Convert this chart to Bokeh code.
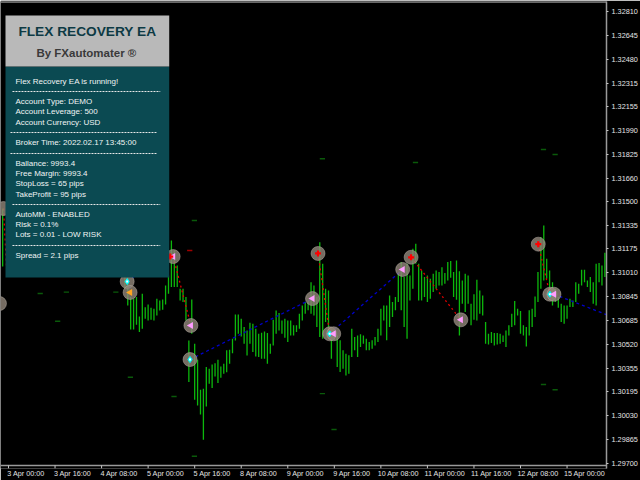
from bokeh.plotting import figure
from bokeh.embed import file_html
from bokeh.resources import INLINE
from bokeh.models import Range1d, LinearAxis, FixedTicker, NumeralTickFormatter
from bokeh.core.properties import value
import math

# chart values
y_ticks = [1.32810,1.32645,1.32480,1.32315,1.32155,1.31990,1.31825,1.31660,1.31500,1.31335,
           1.31175,1.31010,1.30845,1.30685,1.30520,1.30355,1.30195,1.30030,1.29865,1.29700]
x_labels = ["3 Apr 00:00","3 Apr 16:00","4 Apr 08:00","5 Apr 00:00","5 Apr 16:00","8 Apr 08:00","9 Apr 00:00",
            "9 Apr 16:00","10 Apr 08:00","11 Apr 00:00","11 Apr 16:00","12 Apr 08:00","15 Apr 00:00"]
first_bar = 40
highs = [1.30980,1.30982,1.30844,1.30833,1.30844,1.30711,1.30867,1.30775,1.30794,1.30771,1.30764,1.30833,1.30821,1.30828,1.30924,
 1.30993,1.31233,1.31165,1.31062,1.30901,1.30901,1.30844,1.30546,1.30828,1.30523,1.30413,1.30207,1.30214,1.30363,1.30351,
 1.30381,1.30390,1.30413,1.30367,1.30386,1.30478,1.30482,1.30558,1.30725,1.30725,1.30695,1.30638,1.30615,1.30668,1.30661,
 1.30626,1.30592,1.30599,1.30608,1.30597,1.30523,1.30688,1.30752,1.30734,
 1.30684,1.30695,1.30684,1.30684,1.30650,1.30650,1.30730,1.30787,1.30810,1.30821,1.30947,1.30924,1.30844,1.31222,1.31073,
 1.30902,1.30890,1.30627,1.30627,1.30581,1.30547,1.30478,1.30455,1.30444,1.30627,1.30570,1.30581,1.30588,1.30581,1.30558,
 1.30535,1.30547,1.30570,1.30627,1.30764,1.30787,1.30787,1.30856,1.30810,1.30844,1.31005,1.31085,1.30982,1.31073,1.30993,
 1.31176,1.31211,1.31073,1.31027,1.30982,1.30993,1.30970,1.31005,1.31027,1.31016,1.31050,1.31009,1.31085,1.31092,
 1.31016,1.31096,1.31021,1.30959,1.31005,1.30993,1.30798,1.30863,1.30963,1.30890,1.30856,1.30673,1.30592,1.30604,1.30597,
 1.30597,1.30592,1.30581,1.30615,1.30650,1.30730,1.30817,1.30764,1.30748,1.30650,1.30638,1.30753,1.30764,1.30849,1.31016,
 1.31257,1.31337,1.31108,1.31027,1.30947,1.30902,1.30844,1.30798,1.30787,1.30787,1.30833,1.30821,1.30947,1.30936,1.31032,
 1.31032,1.30959,1.30982,1.30947,1.31073,1.31078,1.31062,1.31149]
lows = [1.30901,1.30787,1.30622,1.30622,1.30654,1.30604,1.30626,1.30695,1.30684,1.30688,1.30684,1.30718,1.30752,1.30757,1.30794,
 1.30867,1.30913,1.30913,1.30913,1.30821,1.30810,1.30684,1.30260,1.30592,1.30138,1.30099,1.30038,1.29864,1.30093,1.30248,
 1.30219,1.30299,1.30253,1.30290,1.30317,1.30328,1.30386,1.30459,1.30546,1.30592,1.30574,1.30523,1.30443,1.30523,1.30466,
 1.30436,1.30432,1.30420,1.30420,1.30386,1.30455,1.30512,1.30592,1.30615,
 1.30592,1.30565,1.30535,1.30581,1.30581,1.30604,1.30627,1.30684,1.30730,1.30753,1.30730,1.30718,1.30638,1.30570,1.30558,
 1.30673,1.30615,1.30421,1.30547,1.30363,1.30329,1.30352,1.30306,1.30318,1.30432,1.30478,1.30432,1.30501,1.30524,1.30478,
 1.30478,1.30489,1.30512,1.30535,1.30581,1.30684,1.30547,1.30638,1.30707,1.30753,1.30810,1.30753,1.30638,1.30558,1.30821,
 1.30902,1.31073,1.30821,1.30821,1.30844,1.30810,1.30833,1.30879,1.30902,1.30924,1.30924,1.30936,1.30959,1.30977,
 1.30844,1.30826,1.30581,1.30798,1.30741,1.30798,1.30650,1.30689,1.30684,1.30730,1.30718,1.30524,1.30519,1.30528,1.30512,
 1.30519,1.30524,1.30535,1.30501,1.30581,1.30638,1.30650,1.30718,1.30592,1.30581,1.30505,1.30581,1.30638,1.30707,1.30810,
 1.30902,1.30959,1.30970,1.30890,1.30787,1.30810,1.30771,1.30673,1.30661,1.30695,1.30776,1.30776,1.30810,1.30867,1.30924,
 1.30947,1.30913,1.30879,1.30798,1.30787,1.30947,1.30924,1.30982]
left_bar = [-2]
left_high = [1.31453]
left_low = [1.31054]

circle_bar = [-3.1,-1.7,40.8,41.8,56.6,62.7,62.4,106.4,104.5,110.4,111.8,135.5,138.4,155.5,182.1,186.1,187.5]
circle_price = [1.30800,1.31453,1.30951,1.30876,1.31123,1.30649,1.30415,1.31144,1.30834,1.30592,1.30592,1.31034,1.31118,1.30688,1.31208,1.30864,1.30864]

cyan_bar = [40.8,62.4,110.4,186.1]
cyan_price = [1.30951,1.30415,1.30592,1.30864]
pink_bar = [56.6,62.7,104.5,111.8,135.5,155.5,187.5]
pink_price = [1.31123,1.30649,1.30834,1.30592,1.31034,1.30688,1.30864]
orange_bar = [41.8]
orange_price = [1.30876]
red_bar = [55.6,106.4,138.4,182.1]
red_price = [1.31123,1.31144,1.31118,1.31208]

red_x0 = [-1.7,56.6,106.4,138.4,182.1]
red_y0 = [1.31453,1.31123,1.31144,1.31118,1.31208]
red_x1 = [-0.5,62.7,110.4,155.5,186.1]
red_y1 = [1.30979,1.30649,1.30592,1.30688,1.30864]
blue_x0 = [40.8,62.4,110.4,187.5]
blue_y0 = [1.30951,1.30415,1.30592,1.30864]
blue_x1 = [50,104.5,135.5,205.5]
blue_y1 = [1.31082,1.30834,1.31034,1.30724]

dash_bar = [10,19,36,16,41,56,107,111,63,63,107,139,183,187,183,187]
dash_price = [1.30869,1.30878,1.30878,1.30678,1.30293,1.30161,1.30181,1.29934,1.29750,1.31371,1.31795,1.31769,1.31859,1.31824,1.30243,1.30207]
reddash_bar = [61.4]
reddash_price = [1.31164]

panel_title = "FLEX RECOVERY EA"
panel_sub = "By FXautomater ®"
panel_lines = ["Flex Recovery EA is running!","Account Type:  DEMO","Account Leverage: 500","Account Currency: USD",
 "Broker Time: 2022.02.17 13:45:00","Ballance: 9993.4","Free Margin: 9993.4","StopLoss = 65 pips","TakeProfit = 95 pips",
 "AutoMM - ENABLED","Risk = 0.1%","Lots = 0.01 - LOW RISK","Spread = 2.1 pips"]
line_px = [81,101,111,122,142,163,173,183,194,214,224,234,255]
rule_y = [91,132,153,204,245]
rule_x0 = [12,10,10,12,12]
rule_x1 = [160,157,157,160,160]

FONT = "Liberation Sans"
p = figure(width=640, height=480, output_backend="svg", toolbar_location=None,
           x_range=Range1d(-2.745, 205.56), y_range=Range1d(1.29666, 1.32876),
           background_fill_color="black", border_fill_color="black",
           min_border_left=0, min_border_right=33, min_border_top=1, min_border_bottom=12,
           outline_line_color=None)
p.xaxis.visible = False
p.yaxis.visible = False
p.grid.visible = False
p.left = []
p.below = []
p.extra_x_ranges["px"] = Range1d(0, 607)
p.extra_y_ranges["px"] = Range1d(468, 1)

BAR = "#0cb80c"
bars_x = list(range(first_bar, first_bar + len(highs)))
p.segment(left_bar, left_high, left_bar, left_low, line_color=BAR, line_width=1.3)
p.segment(bars_x, highs, bars_x, lows, line_color=BAR, line_width=1.3)
p.segment(dash_bar, dash_price, [b + 1.8 for b in dash_bar], dash_price, line_color="#0a5a0a", line_width=1.4)
p.segment(reddash_bar, reddash_price, [b + 1.8 for b in reddash_bar], reddash_price, line_color="#a00000", line_width=1.4)
p.segment(red_x0, red_y0, red_x1, red_y1, line_color="#e00000", line_width=1.3, line_dash="2 3")
p.segment(blue_x0, blue_y0, blue_x1, blue_y1, line_color="#0000c8", line_width=1.3, line_dash="3 3")
p.scatter(circle_bar, circle_price, size=14, marker="circle", fill_color="#8f8478", fill_alpha=0.82,
          line_color="#b4aca4", line_alpha=0.5)
p.scatter(cyan_bar, cyan_price, size=6, marker="diamond", fill_color="#00ffff", line_color="#00ffff")
p.scatter(cyan_bar, cyan_price, size=2, marker="square", fill_color="white", line_color=None)
p.scatter(pink_bar, pink_price, size=7, marker="triangle", angle=math.pi/2, fill_color="#ff9cff", line_color=None)
p.scatter(orange_bar, orange_price, size=7, marker="triangle", angle=math.pi/2, fill_color="#ffa520", line_color=None)
p.scatter(red_bar, red_price, size=6, marker="plus", fill_color="#ff0000", line_color=None)

# frame lines, time ticks and information panel
tick_bars = [16*k for k in range(len(x_labels))]
px = dict(x_range_name="px", y_range_name="px")
p.segment([0], [1.5], [607], [1.5], line_color="#8c8c8c", line_width=1.5, **px)
p.segment([0], [465], [607], [465], line_color="#9a9a9a", line_width=1.5, **px)
p.segment(tick_bars, [465]*len(tick_bars), tick_bars, [468]*len(tick_bars), line_color="#c8c8c8", line_width=1, y_range_name="px")
p.quad(left=[5], right=[169], top=[66], bottom=[277], fill_color="#0b4a52", line_color=None, **px)
p.quad(left=[5], right=[169], top=[15], bottom=[66], fill_color="#b9b9b9", line_color=None, **px)
p.text([87], [31], text=[panel_title], text_font=value(FONT), text_font_style="bold", text_font_size="13.7px",
       text_color="#0d3a44", text_align="center", text_baseline="middle", **px)
p.text([86], [52], text=[panel_sub], text_font=value(FONT), text_font_style="bold", text_font_size="11.5px",
       text_color="#3a3a3a", text_align="center", text_baseline="middle", **px)
p.text([15]*len(panel_lines), line_px, text=panel_lines, text_font=value(FONT), text_font_size="8px",
       text_color="#f0f4f4", text_align="left", text_baseline="middle", **px)
p.segment(rule_x0, rule_y, rule_x1, rule_y, line_color="#e8e8e8", line_width=1, line_dash="2 1", **px)

# axes
yax = LinearAxis(ticker=FixedTicker(ticks=y_ticks), formatter=NumeralTickFormatter(format="0.00000"),
                 axis_line_color="#9a9a9a", axis_line_width=1.5,
                 major_tick_line_color="#c8c8c8", major_tick_out=2, major_tick_in=0, minor_tick_line_color=None,
                 major_label_standoff=3, major_label_text_font=FONT, major_label_text_font_size="7.3px",
                 major_label_text_color="#e4e4e4")
p.add_layout(yax, "right")

label_bars = [b + 6 for b in tick_bars]
xlab = LinearAxis(ticker=FixedTicker(ticks=label_bars), major_label_overrides=dict(zip(label_bars, x_labels)),
                  axis_line_color=None, major_tick_line_color=None, minor_tick_line_color=None,
                  major_tick_out=0, major_tick_in=0, major_label_standoff=0,
                  major_label_text_font=FONT, major_label_text_font_size="7.2px", major_label_text_color="#e4e4e4")
p.add_layout(xlab, "below")

open("out.html", "w").write(file_html(p, INLINE))
